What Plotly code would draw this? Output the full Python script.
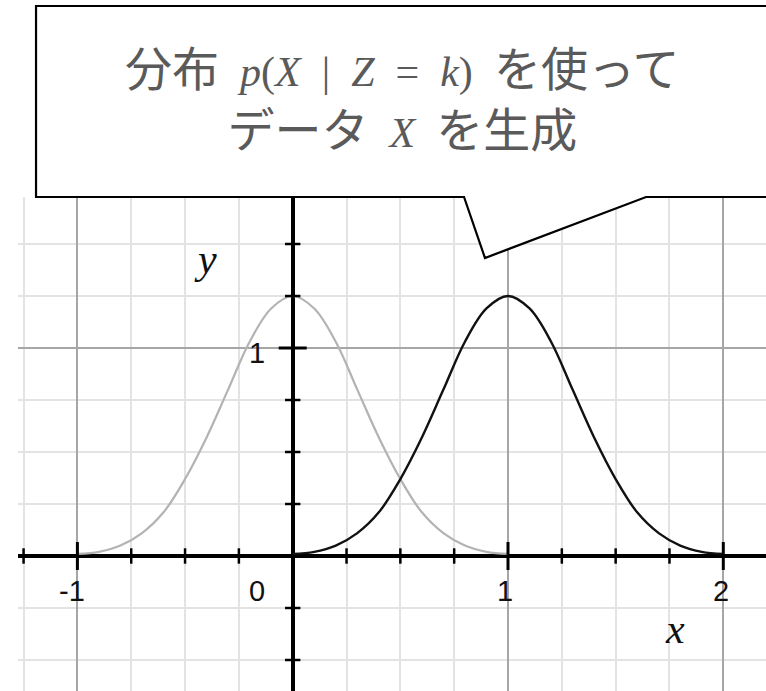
import plotly.graph_objects as go

# === data ===
# two bell curves p(X | Z = k), sampled every 0.1
x_k0 = [-1.0, -0.9, -0.8, -0.7, -0.6, -0.5, -0.4, -0.3, -0.2, -0.1, 0.0,
        0.1, 0.2, 0.3, 0.4, 0.5, 0.6, 0.7, 0.8, 0.9, 1.0]
y_k0 = [0.01, 0.02, 0.05, 0.11, 0.21, 0.37, 0.57, 0.80, 1.03, 1.19, 1.25,
        1.19, 1.03, 0.80, 0.57, 0.37, 0.21, 0.11, 0.05, 0.02, 0.01]
x_k1 = [0.0, 0.1, 0.2, 0.3, 0.4, 0.5, 0.6, 0.7, 0.8, 0.9, 1.0,
        1.1, 1.2, 1.3, 1.4, 1.5, 1.6, 1.7, 1.8, 1.9, 2.0]
y_k1 = [0.01, 0.02, 0.05, 0.11, 0.21, 0.37, 0.57, 0.80, 1.03, 1.19, 1.25,
        1.19, 1.03, 0.80, 0.57, 0.37, 0.21, 0.11, 0.05, 0.02, 0.01]

# axis tick positions and labels
x_minor_ticks = [-1.25, -0.75, -0.5, -0.25, 0.25, 0.5, 0.75, 1.25, 1.5, 1.75, 2.25]
x_major_ticks = [-1, 1, 2]
y_minor_ticks = [-0.5, -0.25, 0.25, 0.5, 0.75, 1.25, 1.5]
y_major_ticks = [1]
x_tick_labels = ['-1', '0', '1', '2']
x_tick_values = [-1, 0, 1, 2]
y_tick_labels = ['1']
y_tick_values = [1]

SP = '\u00a0 '  # wide spacing
MATH = '<span style="font-family:Liberation Serif;font-size:42px">'
callout_text = (f'分布{SP}{MATH}<i>p</i>(<i>X</i>{SP}|{SP}<i>Z</i>{SP}={SP}<i>k</i>)</span>{SP}を使って'
                f'<br>データ{SP}{MATH}<i>X</i></span>{SP}を生成')

W, H = 766, 691
ML, MT = 18, 197


def px(x, y):
    # pixel position -> paper coordinates
    return (x - ML) / (W - ML), (H - y) / (H - MT)


fig = go.Figure()

fig.add_trace(go.Scatter(x=x_k0, y=y_k0, mode='lines', line=dict(color='#b3b3b3', width=2.2, shape='spline'),
                         hoverinfo='skip'))
fig.add_trace(go.Scatter(x=x_k1, y=y_k1, mode='lines', line=dict(color='#111111', width=2.4, shape='spline'),
                         hoverinfo='skip'))

# tick marks crossing the axes
fig.add_trace(go.Scatter(x=x_minor_ticks, y=[0] * len(x_minor_ticks), mode='markers',
                         marker=dict(symbol='line-ns', size=11, line=dict(color='black', width=2.5))))
fig.add_trace(go.Scatter(x=x_major_ticks, y=[0] * len(x_major_ticks), mode='markers',
                         marker=dict(symbol='line-ns', size=20, line=dict(color='black', width=3))))
fig.add_trace(go.Scatter(x=[0] * len(y_minor_ticks), y=y_minor_ticks, mode='markers',
                         marker=dict(symbol='line-ew', size=11, line=dict(color='black', width=2.5))))
fig.add_trace(go.Scatter(x=[0] * len(y_major_ticks), y=y_major_ticks, mode='markers',
                         marker=dict(symbol='line-ew', size=20, line=dict(color='black', width=3))))

# tick labels
label_font = dict(family='Liberation Sans, Arial', size=29, color='#111111')
x_shifts = {'-1': -5, '0': -36, '1': -3, '2': -2}
for lab, val in zip(x_tick_labels, x_tick_values):
    fig.add_annotation(x=val, y=0, text=lab, showarrow=False, font=label_font,
                       xshift=x_shifts[lab], yshift=-35)
for lab, val in zip(y_tick_labels, y_tick_values):
    fig.add_annotation(x=0, y=val, text=lab, showarrow=False, font=label_font,
                       xshift=-36, yshift=-5)

# axis names
name_font = dict(family='Liberation Serif, Times New Roman', size=42, color='#111111')
fig.add_annotation(x=-0.407, y=1.43, text='<i>y</i>', showarrow=False, font=name_font)
fig.add_annotation(x=1.776, y=-0.35, text='<i>x</i>', showarrow=False, font=name_font)

# speech-bubble callout
p = [px(36, 6), px(820, 6), px(820, 197), px(646, 197), px(485, 258), px(464, 197), px(36, 197)]
path = 'M ' + ' L '.join(f'{a:.4f},{b:.4f}' for a, b in p) + ' Z'
fig.add_shape(type='path', path=path, xref='paper', yref='paper', layer='above',
              fillcolor='white', line=dict(color='black', width=2.2))
cx, cy = px(402, 96)
fig.add_annotation(x=cx, y=cy, xref='paper', yref='paper', text=callout_text, showarrow=False,
                   xanchor='center', yanchor='middle',
                   font=dict(family='Noto Sans CJK JP', size=47, color='#5a5a5a'))

x0, sx = 292.7, 215.3
y0, sy = 556.0, 208.0
fig.update_layout(
    width=W, height=H,
    margin=dict(l=ML, r=0, t=MT, b=0),
    paper_bgcolor='white', plot_bgcolor='white',
    showlegend=False,
    xaxis=dict(range=[(ML - x0) / sx, (W - x0) / sx], dtick=1, showgrid=True, gridcolor='#a6a6a6', gridwidth=1.5,
               minor=dict(dtick=0.25, showgrid=True, gridcolor='#e3e3e3', gridwidth=2),
               zeroline=True, zerolinecolor='black', zerolinewidth=4, showticklabels=False, ticks='',
               fixedrange=True),
    yaxis=dict(range=[(y0 - H) / sy, (y0 - MT) / sy], dtick=1, showgrid=True, gridcolor='#a6a6a6', gridwidth=1.5,
               minor=dict(dtick=0.25, showgrid=True, gridcolor='#e3e3e3', gridwidth=2),
               zeroline=True, zerolinecolor='black', zerolinewidth=4, showticklabels=False, ticks='',
               fixedrange=True),
)

# page body margin off, so the figure sits at the window's corner
fig.write_html("out.html", config={'displayModeBar': False},
               post_script="document.body.style.margin='0';")
